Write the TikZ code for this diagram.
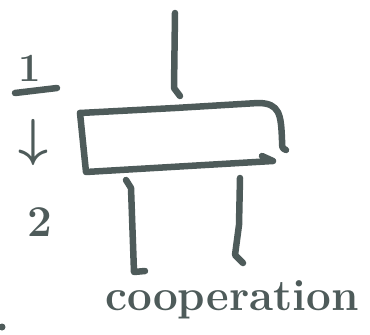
\documentclass[tikz,border=0pt]{standalone}
\usetikzlibrary{positioning}
\definecolor{ink}{HTML}{4E5B5A}
\tikzset{
  pen/.style={draw=ink, line width=6.5pt, line cap=round, line join=round},
  label/.style={text=ink, inner sep=0pt, font=\bfseries\fontsize{40}{40}\selectfont}
}
\begin{document}
\begin{tikzpicture}[x=1pt, y=-1pt]
        \useasboundingbox (0,0) rectangle (370,335);

        \node[label] at (30, 68)(one){1};
        \node[label, font=\boldmath, scale=5.2, transform shape] at (33, 142)(down){$\downarrow$};
        \node[label, font=\bfseries\fontsize{44}{44}\selectfont] at (40, 222)(two){2};
        \node[label, font=\bfseries\fontsize{44}{44}\selectfont] at (232, 300)(coop){cooperation};

        % box
        \coordinate (tl) at (80, 113);
        \coordinate (bl) at (86, 172);
        \coordinate (br) at (273, 161);
        \coordinate (tr) at (286, 150);
        \draw[pen] (tl) -- (bl) -- (br) -- (262, 156);
        \draw[pen] (tl) -- (175, 108) -- (258, 103) .. controls (280, 103) and (281, 115) .. (282, 140) .. controls (282, 148) .. (tr);

        % wires
        \coordinate (in) at (175, 13);
        \coordinate (outa) at (145, 271);
        \coordinate (outb) at (243, 263);
        \draw[pen] (in) -- (174, 88) -- (180, 96);
        \draw[pen] (126, 180) -- (131, 188) -- (134, 272) -- (outa);
        \draw[pen] (240, 178) -- (239, 225) -- (235, 255) -- (outb);

        \draw[pen] (15, 93) -- (57, 88);
        \fill[ink] (2, 327) circle (3.5);
    \end{tikzpicture}
\end{document}
